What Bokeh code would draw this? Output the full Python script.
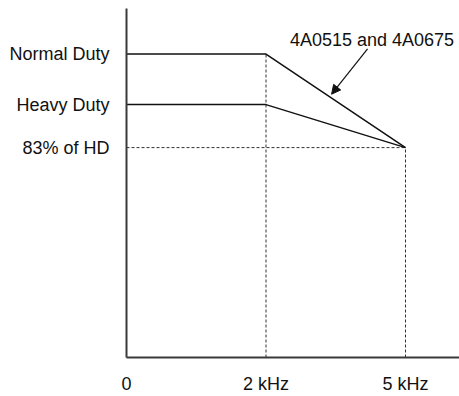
from bokeh.plotting import figure
from bokeh.models import Range1d, FixedTicker, Arrow, NormalHead
from bokeh.core.properties import value
from bokeh.embed import file_html
from bokeh.resources import INLINE

# Data
x_pos = [0, 1, 2]                      # evenly spaced carrier-frequency positions
x_labels = ["0", "2 kHz", "5 kHz"]
normal_duty = [120, 120, 83]           # % of Heavy Duty rating
heavy_duty = [100, 100, 83]
y_ticks = [120, 100, 83]
y_labels = ["Normal Duty", "Heavy Duty", "83% of HD"]
note_text = "4A0515 and 4A0675"
note_pos = (1.76, 125.6)
note_tail = (1.728, 122.0)
note_frac = 0.47                       # arrow tip fraction along Normal Duty slope

FONT = "Liberation Sans"
FS = "18px"

p = figure(width=459, height=396, output_backend="svg", toolbar_location=None,
           x_range=Range1d(0, 2.387), y_range=Range1d(0, 138),
           min_border_left=126, min_border_right=0, min_border_top=8, min_border_bottom=32)
p.outline_line_color = None
p.xgrid.visible = False
p.ygrid.visible = False
p.background_fill_color = "white"

for ax in (p.xaxis[0], p.yaxis[0]):
    ax.axis_line_color = "#3a3a3a"
    ax.axis_line_width = 2
    ax.major_tick_line_color = None
    ax.minor_tick_line_color = None
    ax.major_label_text_font = FONT
    ax.major_label_text_font_size = FS
    ax.major_label_text_color = "#111111"

p.xaxis[0].ticker = FixedTicker(ticks=x_pos)
p.xaxis[0].major_label_overrides = {x: l for x, l in zip(x_pos, x_labels)}
p.xaxis[0].major_label_standoff = 10
p.yaxis[0].ticker = FixedTicker(ticks=y_ticks)
p.yaxis[0].major_label_overrides = {y: l for y, l in zip(y_ticks, y_labels)}
p.yaxis[0].major_label_standoff = 11

# dashed guides
dash = "3 2"
p.line([x_pos[0], x_pos[2]], [heavy_duty[2], heavy_duty[2]], line_dash=dash, line_color="#333333", line_width=1)
p.line([x_pos[1], x_pos[1]], [0, normal_duty[1]], line_dash=dash, line_color="#333333", line_width=1)
p.line([x_pos[2], x_pos[2]], [0, heavy_duty[2]], line_dash=dash, line_color="#333333", line_width=1)

# derating curves
p.line(x_pos, normal_duty, line_color="#111111", line_width=1.5)
p.line(x_pos, heavy_duty, line_color="#111111", line_width=1.5)

# annotation
p.text(x=[note_pos[0]], y=[note_pos[1]], text=[note_text], text_font=value(FONT),
       text_font_size=FS, text_align="center", text_baseline="middle", text_color="#111111")
tip_x = x_pos[1] + note_frac * (x_pos[2] - x_pos[1])
tip_y = normal_duty[1] + note_frac * (normal_duty[2] - normal_duty[1]) + 1.5
p.add_layout(Arrow(end=NormalHead(size=9, fill_color="#111111", line_color="#111111"),
                   x_start=note_tail[0], y_start=note_tail[1], x_end=tip_x, y_end=tip_y,
                   line_color="#111111", line_width=1.2))

open("out.html", "w").write(file_html(p, INLINE))
